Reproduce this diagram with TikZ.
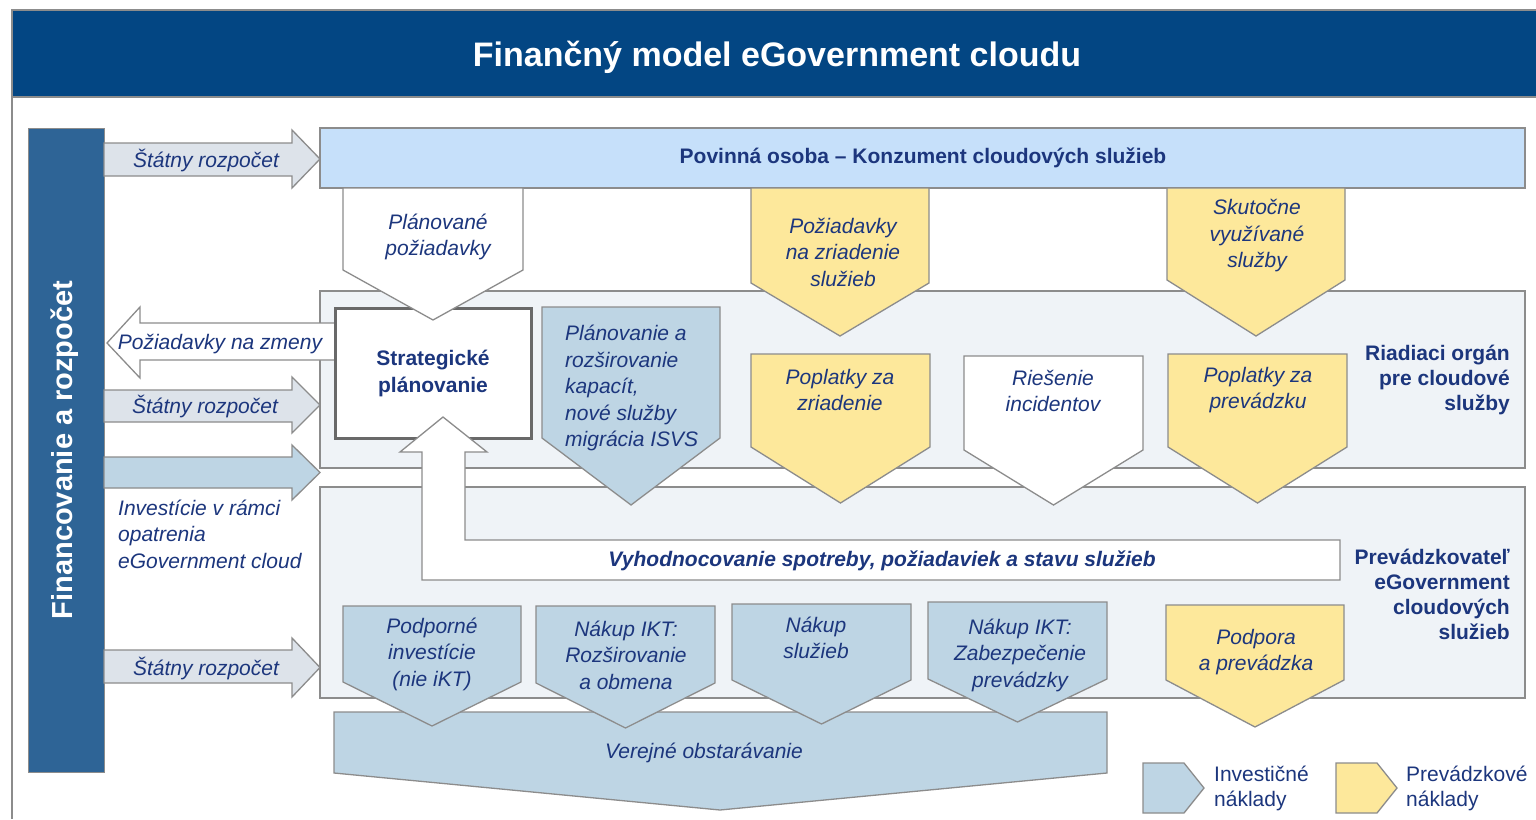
\documentclass[tikz,border=0pt]{standalone}
\usepackage{fontspec}
\setmainfont{Liberation Sans}
\definecolor{titleblue}{RGB}{3,70,131}
\definecolor{leftbar}{RGB}{46,100,150}
\definecolor{topbar}{RGB}{198,224,250}
\definecolor{panel}{RGB}{239,243,247}
\definecolor{invblue}{RGB}{190,213,228}
\definecolor{opyellow}{RGB}{253,232,155}
\definecolor{arrowgray}{RGB}{221,227,234}
\definecolor{linegray}{RGB}{140,140,140}
\definecolor{darkgray2}{RGB}{105,105,105}
\definecolor{txtblue}{RGB}{28,54,125}
\newcommand{\dpent}[6]{\draw[#6] (#1,#3) -- (#2,#3) -- (#2,#4) -- ({(#1+#2)/2},#5) -- (#1,#4) -- cycle;}
\newcommand{\rarr}[9]{\draw[#9] (#1,#4) -- (#2,#4) -- (#2,#6) -- (#3,{(#6+#7)/2}) -- (#2,#7) -- (#2,#5) -- (#1,#5) -- cycle;}
\begin{document}
\begin{tikzpicture}[x=1pt,y=-1pt,
  shape line/.style={draw=linegray, line width=1.3pt, line join=miter},
  invbox/.style={shape line, fill=invblue},
  opbox/.style={shape line, fill=opyellow},
  whitebox/.style={shape line, fill=white},
  grayarrow/.style={shape line, fill=arrowgray},
  txt/.style={text=txtblue, font=\fontsize{21}{26.5}\selectfont\itshape, align=center, inner sep=0pt},
  txtl/.style={txt, align=left, anchor=west},
  btxt/.style={text=txtblue, font=\fontsize{21}{25}\selectfont\bfseries, inner sep=0pt},
]
\useasboundingbox (0,0) rectangle (1536,819);
% frame
\fill[white] (0,0) rectangle (1536,819);
\draw[linegray, line width=1.3pt] (12,97) -- (12,819);
\draw[fill=titleblue, draw=linegray, line width=1.3pt] (12,10) rectangle (1545,97);
\node[text=white, font=\fontsize{34}{40}\selectfont\bfseries, inner sep=0pt] (title) at (777,57) {Finančný model eGovernment cloudu};
% left bar
\draw[fill=leftbar, draw=linegray, line width=1pt] (28,128) rectangle (104,772);
\node[text=white, font=\fontsize{29}{34}\selectfont\bfseries, rotate=90, inner sep=0pt] (fin) at (65,450) {Financovanie a rozpočet};
% panels
\draw[shape line, fill=topbar] (320,128) rectangle (1525,188);
\node[btxt] (povinna) at (923,158) {Povinná osoba – Konzument cloudových služieb};
\draw[shape line, fill=panel] (320,291) rectangle (1525,468);
\draw[shape line, fill=panel] (320,487) rectangle (1525,698);
\node[btxt, align=right, anchor=east] (riadiaci) at (1510,380) {Riadiaci orgán\\pre cloudové\\služby};
\node[btxt, align=right, anchor=east] (prevadzk) at (1510,594) {Prevádzkovateľ\\eGovernment\\cloudových\\služieb};
% left arrows
\rarr{104}{292}{320}{143}{176}{130}{188}{x}{grayarrow}
\node[txt] (sr1) at (206,160) {Štátny rozpočet};
\draw[shape line, fill=white] (335,323) -- (140,323) -- (140,307) -- (107,343) -- (140,378) -- (140,360) -- (335,360);
\node[txt] (zmeny) at (220,344) {Požiadavky na zmeny};
\rarr{104}{292}{320}{390}{422}{377}{433}{x}{grayarrow}
\node[txt] (sr2) at (205,406) {Štátny rozpočet};
\rarr{104}{292}{320}{457}{488}{445}{500}{x}{shape line, fill=invblue}
\node[txtl] (invest) at (118,534) {Investície v rámci\\opatrenia\\eGovernment cloud};
\rarr{104}{292}{320}{650}{683}{638}{697}{x}{grayarrow}
\node[txt] (sr3) at (206,668) {Štátny rozpočet};
% strategic box
\draw[draw=darkgray2, line width=3pt, fill=white] (335,308) rectangle (531,438);
\node[btxt, align=center, font=\fontsize{21}{27}\selectfont\bfseries] (strat) at (433,373) {Strategické\\plánovanie};
% upper pentagons
\dpent{343}{523}{188}{270}{320}{whitebox}
\node[txt] (plpoz) at (438,237) {Plánované\\požiadavky};
\dpent{542}{720}{307}{438}{505}{invbox}
\node[txtl] (planroz) at (565,388) {Plánovanie a\\rozširovanie\\kapacít,\\nové služby\\migrácia ISVS};
\dpent{751}{929}{188}{283}{336}{opbox}
\node[txt] (pozzr) at (843,252) {Požiadavky\\na zriadenie\\služieb};
\dpent{1167}{1345}{188}{280}{336}{opbox}
\node[txt] (skut) at (1257,236) {Skutočne\\využívané\\služby};
\dpent{751}{930}{354}{447}{503}{opbox}
\node[txt] (poplzr) at (840,390) {Poplatky za\\zriadenie};
\dpent{964}{1143}{356}{450}{505}{whitebox}
\node[txt] (ries) at (1053,391) {Riešenie\\incidentov};
\dpent{1168}{1347}{354}{447}{503}{opbox}
\node[txt] (poplpr) at (1258,390) {Poplatky za\\prevádzku};
% feedback arrow
\draw[whitebox] (1340,540) -- (465,540) -- (465,452) -- (487,452) -- (443,417) -- (400,452) -- (422,452) -- (422,580) -- (1340,580) -- cycle;
\node[txt, font=\fontsize{21}{26}\selectfont\bfseries\itshape] (vyhod) at (882,561) {Vyhodnocovanie spotreby, požiadaviek a stavu služieb};
% procurement
\draw[invbox] (334,712) -- (1107,712) -- (1107,773) -- (720,810) -- (334,773) -- cycle;
\node[txt] (verejne) at (704,753) {Verejné obstarávanie};
% lower pentagons
\dpent{343}{521}{606}{682}{726}{invbox}
\node[txt] (podp) at (432,654) {Podporné\\investície\\(nie iKT)};
\dpent{536}{715}{606}{683}{728}{invbox}
\node[txt] (nakup1) at (626,655) {Nákup IKT:\\Rozširovanie\\a obmena};
\dpent{732}{911}{604}{680}{724}{invbox}
\node[txt] (nakup2) at (816,638) {Nákup\\služieb};
\dpent{928}{1107}{602}{679}{722}{invbox}
\node[txt] (nakup3) at (1020,655) {Nákup IKT:\\Zabezpečenie\\prevádzky};
\dpent{1166}{1344}{605}{680}{727}{opbox}
\node[txt] (podpora) at (1256,652) {Podpora\\a prevádzka};
% legend
\draw[invbox] (1143,763) -- (1184,763) -- (1204,788) -- (1184,813) -- (1143,813) -- cycle;
\node[btxt, font=\fontsize{21}{25}\selectfont, align=left, anchor=west] (leg1) at (1214,788) {Investičné\\náklady};
\draw[opbox] (1336,763) -- (1377,763) -- (1397,788) -- (1377,813) -- (1336,813) -- cycle;
\node[btxt, font=\fontsize{21}{25}\selectfont, align=left, anchor=west] (leg2) at (1406,788) {Prevádzkové\\náklady};
\end{tikzpicture}
\end{document}
